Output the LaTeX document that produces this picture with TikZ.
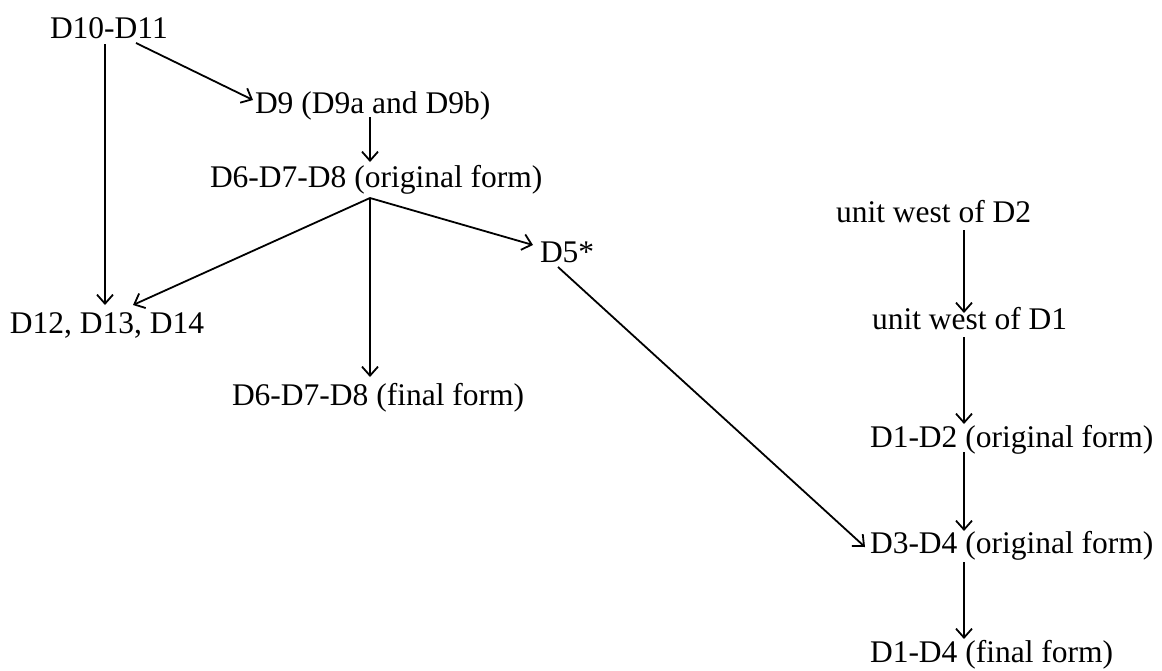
\documentclass[tikz,border=0pt]{standalone}
\usepackage{fontspec}
\setmainfont{Liberation Serif}
\usetikzlibrary{arrows.meta,calc}
\tikzset{
  lbl/.style={anchor=base west,inner sep=0pt,outer sep=0pt,font=\fontsize{15.75}{18}\selectfont},
  arr/.style={line width=0.9pt,-{Straight Barb[length=4.5pt,width=8pt,line width=0.9pt]}}
}
\begin{document}
\begin{tikzpicture}[x=0.5pt,y=-0.5pt]
\useasboundingbox[fill=white] (0,0) rectangle (1162,670);
% nodes (base west positions)
\node[lbl] (d1011) at (50,38) {D10-D11};
\node[lbl] (d9) at (255,113) {D9 (D9a and D9b)};
\node[lbl] (d6o) at (210,187) {D6-D7-D8 (original form)};
\node[lbl] (d5) at (540,262) {D5*};
\node[lbl] (d12) at (10,333) {D12, D13, D14};
\node[lbl] (d6f) at (232,405) {D6-D7-D8 (final form)};
\node[lbl] (uw2) at (836,222) {unit west of D2};
\node[lbl] (uw1) at (872,329) {unit west of D1};
\node[lbl] (d12o) at (870,447) {D1-D2 (original form)};
\node[lbl] (d34o) at (870,553) {D3-D4 (original form)};
\node[lbl] (d14f) at (870,662) {D1-D4 (final form)};
% connectors
\draw[arr] ($(d1011.base west)+(86,5)$) -- ($(d9.base west)+(-2,-13)$);
\draw[arr] ($(d1011.base west)+(55,6)$) -- ($(d12.base west)+(95,-28)$);
\draw[arr] ($(d9.base west)+(115,4)$) -- ($(d6o.base west)+(160,-25)$);
\draw[arr] ($(d6o.base west)+(160,11)$) -- ($(d12.base west)+(123,-28)$);
\draw[arr] ($(d6o.base west)+(160,11)$) -- ($(d6f.base west)+(138,-28)$);
\draw[arr] ($(d6o.base west)+(160,11)$) -- ($(d5.base west)+(-7,-17)$);
\draw[arr] ($(d5.base west)+(18,5)$) -- ($(d34o.base west)+(-5,-6)$);
\draw[arr] ($(uw2.base west)+(128,8)$) -- ($(uw1.base west)+(92,-16)$);
\draw[arr] ($(uw1.base west)+(92,8)$) -- ($(d12o.base west)+(94,-23)$);
\draw[arr] ($(d12o.base west)+(94,5)$) -- ($(d34o.base west)+(94,-22)$);
\draw[arr] ($(d34o.base west)+(94,9)$) -- ($(d14f.base west)+(94,-23)$);
\end{tikzpicture}
\end{document}
